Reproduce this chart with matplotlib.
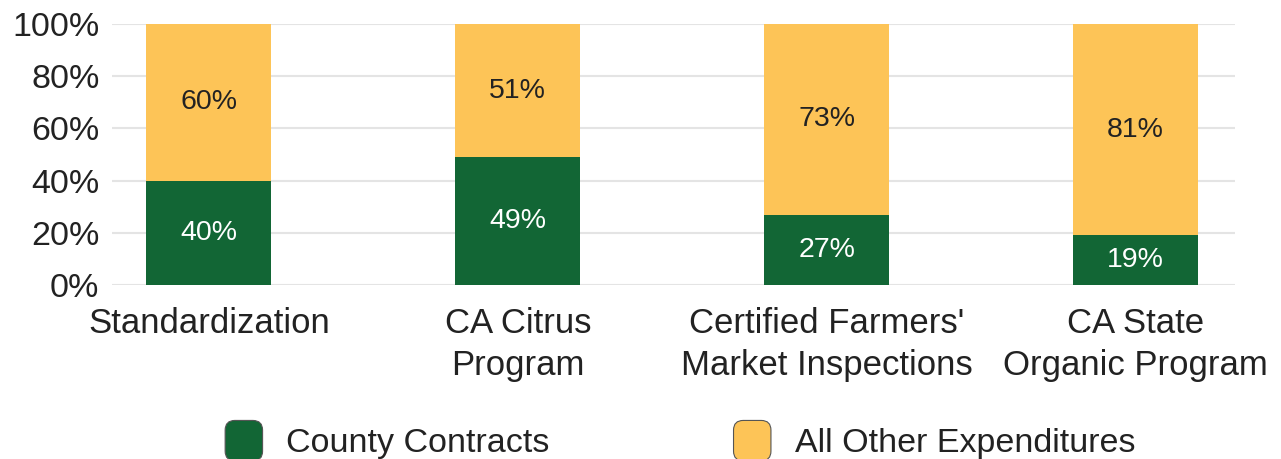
import matplotlib.pyplot as plt
import matplotlib.patches as mpatches
from matplotlib.legend_handler import HandlerPatch
import numpy as np

# data
categories = ["Standardization", "CA Citrus\nProgram",
              "Certified Farmers'\nMarket Inspections", "CA State\nOrganic Program"]
county = [40, 49, 27, 19]
other = [60, 51, 73, 81]
series_names = ["County Contracts", "All Other Expenditures"]

green = "#126635"
yellow = "#fdc457"
txt = "#222222"

plt.rcParams['font.family'] = ['Liberation Sans', 'DejaVu Sans']
narrow = ['Liberation Sans Narrow', 'Liberation Sans', 'DejaVu Sans']

fig = plt.figure(figsize=(12.81, 4.59), dpi=100)
ax = fig.add_axes([0.0874, 0.379, 0.8766, 0.5687])

x = np.arange(len(categories))
w = 0.405
ax.bar(x, county, w, color=green, zorder=2)
ax.bar(x, other, w, bottom=county, color=yellow, zorder=2)

# value labels inside the bars
for xi, c, o in zip(x, county, other):
    ax.text(xi, c / 2, "%d%%" % c, ha='center', va='center', fontsize=20.5,
            color='white', family=narrow, zorder=3)
    ax.text(xi, c + o / 2, "%d%%" % o, ha='center', va='center', fontsize=20.5,
            color=txt, family=narrow, zorder=3)

ax.set_xlim(-0.314, 3.322)
ax.set_ylim(0, 100)
ax.set_yticks(range(0, 101, 20))
ax.set_yticklabels(["%d%%" % v for v in range(0, 101, 20)])
ax.set_xticks(x)
ax.set_xticklabels(categories, linespacing=1.34)
ax.tick_params(axis='y', length=0, pad=9, labelsize=24.5, labelcolor=txt)
ax.tick_params(axis='x', length=0, pad=16, labelsize=25, labelcolor=txt)
ax.grid(axis='y', color='#e4e4e4', linewidth=1.5, zorder=0)
ax.set_axisbelow(True)
for s in ax.spines.values():
    s.set_visible(False)


# rounded legend handles
class RoundHandler(HandlerPatch):
    def create_artists(self, legend, orig_handle, xdescent, ydescent,
                       width, height, fontsize, trans):
        p = mpatches.FancyBboxPatch((-xdescent, -ydescent), width, height,
                                    boxstyle="round,pad=0,rounding_size=7",
                                    facecolor=orig_handle.get_facecolor(),
                                    edgecolor='#555555', linewidth=0.8,
                                    transform=trans)
        return [p]


handles = [mpatches.Patch(facecolor=green), mpatches.Patch(facecolor=yellow)]
fig.legend(handles, series_names, loc='center', bbox_to_anchor=(0.531, 0.04),
           ncol=2, frameon=False, fontsize=24.5, handlelength=1.1,
           handleheight=1.45, handletextpad=0.7, columnspacing=5.4,
           handler_map={mpatches.Patch: RoundHandler()}, labelcolor=txt)

fig.savefig("out.png", dpi=100)
